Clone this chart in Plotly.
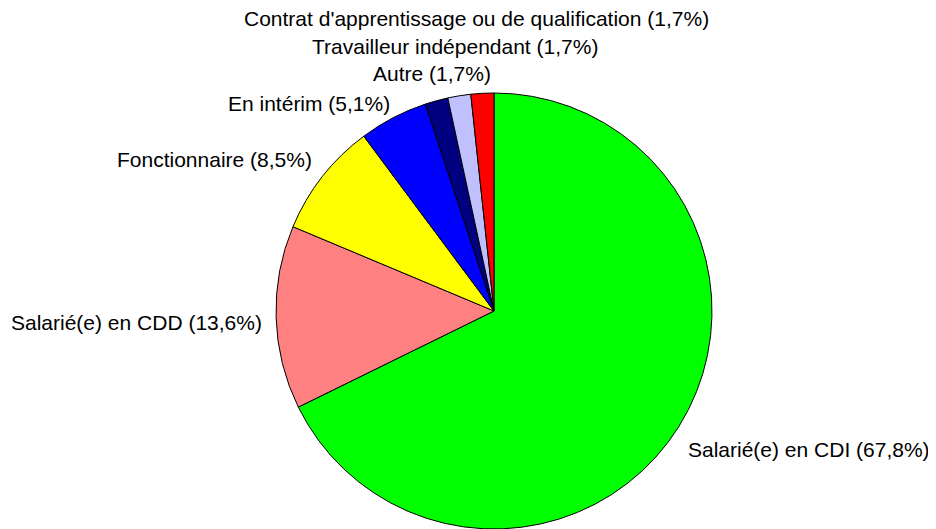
import plotly.graph_objects as go

categories = [
    "Salarié(e) en CDI",
    "Salarié(e) en CDD",
    "Fonctionnaire",
    "En intérim",
    "Contrat d'apprentissage ou de qualification",
    "Travailleur indépendant",
    "Autre",
]
values = [67.8, 13.6, 8.5, 5.1, 1.7, 1.7, 1.7]
colors = ["#00FF00", "#FF8080", "#FFFF00", "#0000FF", "#000080", "#C0C0FF", "#FF0000"]

# label placement (pixels in the screenshot): x, cap-centre y, anchor
label_pos = [
    (687, 448, "left"),
    (263, 321, "right"),
    (313, 158, "right"),
    (227, 103, "left"),
    (243, 18, "left"),
    (311, 45, "left"),
    (372, 73, "left"),
]

W, H = 936, 529
OFF = 8  # page body margin offset of the plot div
cx, cy, r = 494 - OFF, 311 - OFF, 218

fig = go.Figure(
    go.Pie(
        labels=categories,
        values=values,
        sort=False,
        direction="clockwise",
        rotation=0,
        marker=dict(colors=colors, line=dict(color="black", width=1)),
        textinfo="none",
        hoverinfo="label+percent",
        showlegend=False,
        domain=dict(x=[(cx - r) / W, (cx + r) / W], y=[(H - cy - r) / H, (H - cy + r) / H]),
    )
)

def fmt(v):
    return ("%.1f" % v).replace(".", ",")

annotations = []
for cat, v, (px, py, anc) in zip(categories, values, label_pos):
    annotations.append(
        dict(
            text=f"{cat} ({fmt(v)}%)",
            x=(px - OFF) / W,
            y=1 - (py - OFF + 1) / H,
            xref="paper",
            yref="paper",
            xanchor=anc,
            yanchor="middle",
            showarrow=False,
            font=dict(family="Liberation Sans, Arial, sans-serif", size=21, color="black"),
            borderpad=0,
        )
    )

fig.update_layout(
    width=W,
    height=H,
    margin=dict(l=0, r=0, t=0, b=0),
    paper_bgcolor="white",
    plot_bgcolor="white",
    annotations=annotations,
)

fig.write_html("out.html")
